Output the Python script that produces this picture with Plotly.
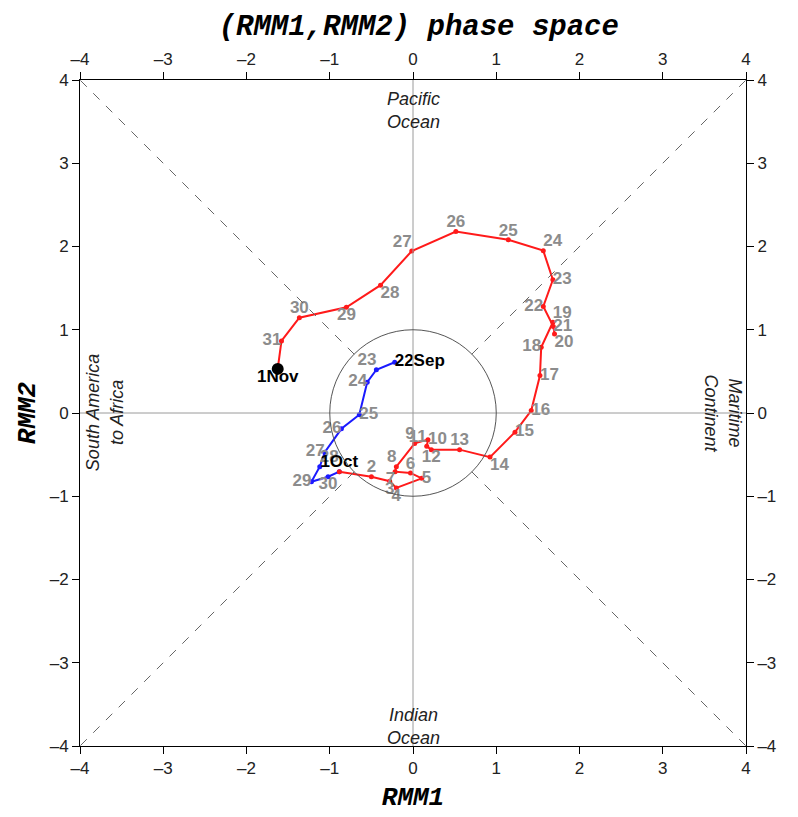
import plotly.graph_objects as go

# ---------------- data ----------------
day_labels = ["22Sep", "23", "24", "25", "26", "27", "28", "29", "30",
              "1Oct", "2", "3", "4", "5", "6", "7", "8", "9", "10", "11", "12",
              "13", "14", "15", "16", "17", "18", "19", "20", "21", "22", "23",
              "24", "25", "26", "27", "28", "29", "30", "31", "1Nov"]
rmm1 = [-0.22, -0.44, -0.55, -0.645, -0.86, -1.06, -1.12, -1.22, -1.02,
        -0.885, -0.50, -0.28, -0.20, 0.105, -0.03, -0.215, -0.20, 0.02, 0.18, 0.165, 0.22,
        0.56, 0.925, 1.225, 1.42, 1.525, 1.54, 1.68, 1.70, 1.685, 1.565, 1.68,
        1.565, 1.145, 0.515, -0.015, -0.39, -0.80, -1.365, -1.58, -1.625]
rmm2 = [0.61, 0.52, 0.37, -0.02, -0.19, -0.47, -0.645, -0.825, -0.765,
        -0.705, -0.765, -0.82, -0.90, -0.785, -0.72, -0.705, -0.645, -0.365, -0.32, -0.40, -0.44,
        -0.44, -0.53, -0.23, 0.03, 0.45, 0.79, 1.09, 0.95, 1.04, 1.28, 1.60,
        1.95, 2.08, 2.18, 1.945, 1.535, 1.27, 1.145, 0.865, 0.53]
sep_end = 10          # September segment: 22Sep .. 1Oct (blue)
oct_start = 9         # October segment: 1Oct .. 1Nov (red)
tick_vals = [-4, -3, -2, -1, 0, 1, 2, 3, 4]
tick_text = ["–4", "–3", "–2", "–1", "0", "1", "2", "3", "4"]

# ---------------- styles ----------------
label_pos = ["middle right", "top left", "middle left", "middle right", "middle left",
             "middle left", "top right", "middle left", "bottom center",
             "top center", "top center", "bottom center", "bottom center", "middle right",
             "top center", "bottom left", "top left", "top left", "middle right", "top left",
             "bottom center", "top center", "bottom right", "middle right", "middle right",
             "middle right", "middle left", "top right", "bottom right", "middle right",
             "middle left", "middle right", "top right", "top center", "top center",
             "top left", "bottom right", "bottom center", "top center", "middle left",
             "bottom center"]
black_labels = {"22Sep", "1Oct", "1Nov"}

fig = go.Figure()

# reference lines
shapes = []
shapes.append(dict(type="line", x0=-4, x1=4, y0=0, y1=0, line=dict(color="#9a9a9a", width=1)))
shapes.append(dict(type="line", x0=0, x1=0, y0=-4, y1=4, line=dict(color="#9a9a9a", width=1)))
shapes.append(dict(type="circle", x0=-1, x1=1, y0=-1, y1=1, line=dict(color="#555555", width=1)))
r = 0.7071
for sx, sy in [(1, 1), (1, -1), (-1, 1), (-1, -1)]:
    shapes.append(dict(type="line", x0=sx * r, y0=sy * r, x1=sx * 4, y1=sy * 4,
                       line=dict(color="#666666", width=1, dash="dash")))

# September (blue)
fig.add_trace(go.Scatter(x=rmm1[:sep_end], y=rmm2[:sep_end], mode="lines+markers",
                         line=dict(color="#1a1aff", width=2), marker=dict(size=5, color="#1a1aff"),
                         hoverinfo="skip", showlegend=False))
# October (red)
fig.add_trace(go.Scatter(x=rmm1[oct_start:], y=rmm2[oct_start:], mode="lines+markers",
                         line=dict(color="#ff1a1a", width=2), marker=dict(size=5, color="#ff1a1a"),
                         hoverinfo="skip", showlegend=False))
# end point
fig.add_trace(go.Scatter(x=[rmm1[-1]], y=[rmm2[-1]], mode="markers",
                         marker=dict(size=12, color="black"), hoverinfo="skip", showlegend=False))
# day labels (gray first, black on top)
gray_idx = [i for i, d in enumerate(day_labels) if d not in black_labels]
blk_idx = [i for i, d in enumerate(day_labels) if d in black_labels]
for idx, col in [(gray_idx, "#8c8c8c"), (blk_idx, "black")]:
    fig.add_trace(go.Scatter(x=[rmm1[i] for i in idx], y=[rmm2[i] for i in idx], mode="text",
                             text=[day_labels[i] for i in idx],
                             textposition=[label_pos[i] for i in idx],
                             textfont=dict(family="Liberation Sans", size=17, color=col, weight="bold"),
                             hoverinfo="skip", showlegend=False))
# dummy trace for mirrored axes
fig.add_trace(go.Scatter(x=[0], y=[0], xaxis="x2", yaxis="y2", mode="markers",
                         marker=dict(opacity=0), hoverinfo="skip", showlegend=False))

afont = dict(family="Liberation Sans", size=17, color="#222222")
region_font = dict(family="Liberation Sans", size=18, color="#222222")
annotations = [
    dict(x=0, y=3.63, text="<i>Pacific</i><br><i>Ocean</i>", showarrow=False, font=region_font),
    dict(x=0, y=-3.76, text="<i>Indian</i><br><i>Ocean</i>", showarrow=False, font=region_font),
    dict(x=-3.71, y=0, text="<i>South America</i><br><i>to Africa</i>", showarrow=False,
         textangle=-90, font=region_font),
    dict(x=3.73, y=0, text="<i>Maritime</i><br><i>Continent</i>", showarrow=False,
         textangle=90, font=region_font),
]

axis_common = dict(range=[-4, 4], tickvals=tick_vals, ticktext=tick_text, ticks="outside",
                   ticklen=7, tickcolor="black", showline=True, linecolor="black", linewidth=1,
                   showgrid=False, zeroline=False, tickfont=afont, fixedrange=True,
                   automargin=False)
title_font = dict(family="Liberation Mono", size=26, color="black")

# the page body adds an 8px offset, so the figure is sized to fit the window
fig.update_layout(
    width=790, height=809,
    margin=dict(l=72, r=52, t=72, b=71),
    plot_bgcolor="white", paper_bgcolor="white",
    title=dict(text="<b><i>(RMM1,RMM2) phase space</i></b>", x=0.52, xanchor="center",
               yref="container", y=0.979, yanchor="middle",
               font=dict(family="Liberation Mono", size=29, color="black")),
    xaxis=dict(axis_common, side="bottom",
               title=dict(text="<b><i>RMM1</i></b>", font=title_font, standoff=9)),
    yaxis=dict(axis_common, side="left",
               title=dict(text="<b><i>RMM2</i></b>", font=title_font, standoff=6)),
    xaxis2=dict(axis_common, side="top", overlaying="x"),
    yaxis2=dict(axis_common, side="right", overlaying="y"),
    shapes=shapes, annotations=annotations,
)

fig.write_html("out.html")
